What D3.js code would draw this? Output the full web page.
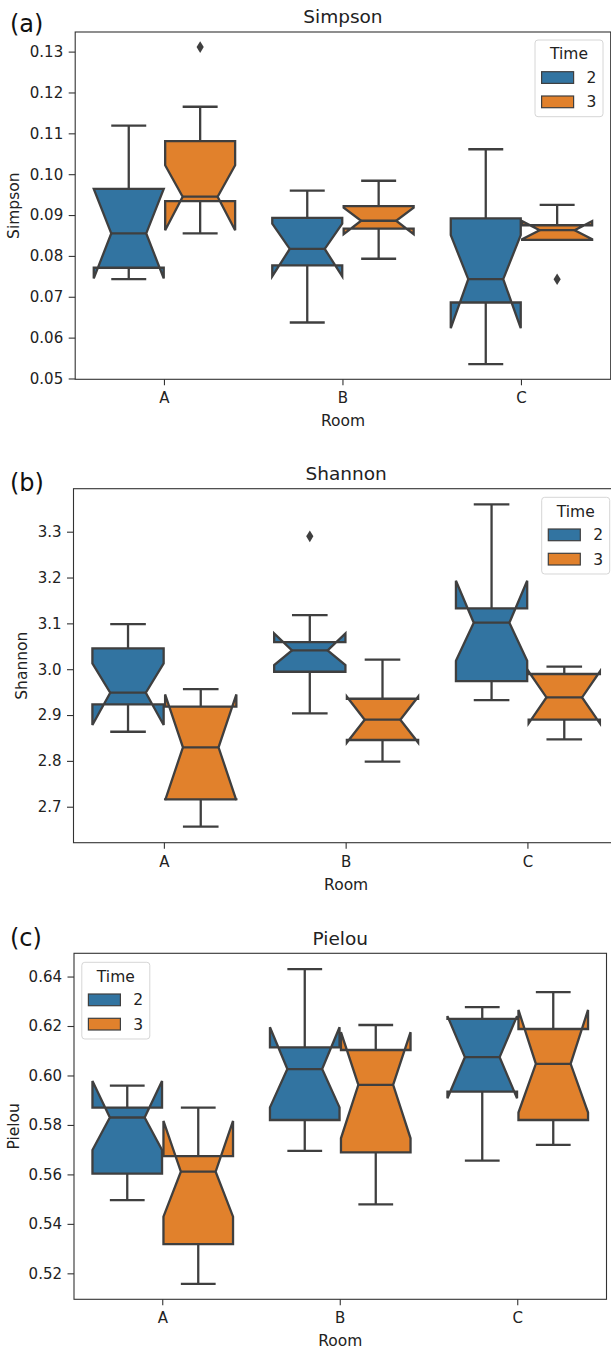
<!DOCTYPE html>
<html>
  <head>
    <meta charset="utf-8" />
    <title>Simpson / Shannon / Pielou by Room</title>
    <script src="https://d3js.org/d3.v7.min.js"></script>
    <style>
      body {
        margin: 0;
        background: #fff;
      }
      svg {
        display: block;
        font-family: "DejaVu Sans", sans-serif;
      }
      .tick text {
        font-family: "DejaVu Sans", sans-serif;
        font-size: 15px;
        fill: #222;
      }
      .tick line {
        stroke: #333;
        stroke-width: 1.1px;
      }
      .frame {
        fill: none;
        stroke: #333;
        stroke-width: 1.1px;
      }
      .box {
        stroke: #3f3f3f;
        stroke-width: 2.3px;
        stroke-linejoin: miter;
      }
      .whisker,
      .median {
        stroke: #3f3f3f;
        stroke-width: 2.3px;
        fill: none;
      }
      .label {
        font-size: 15.5px;
        fill: #222;
      }
    </style>
  </head>
  <body>
    <svg width="611" height="1349"></svg>
    <script>
      const rooms = ["A", "B", "C"];
      const times = ["2", "3"];
      const colors = ["#3274a1", "#e1812c"];

      // every stat array runs A-2, A-3, B-2, B-3, C-2, C-3
      const simpsonWhiskerLow = [0.0743, 0.0855, 0.0637, 0.0793, 0.0535, 0.0839];
      const simpsonQ1 = [0.0771, 0.0934, 0.0777, 0.0867, 0.0686, 0.0839];
      const simpsonNotchLow = [0.0745, 0.0863, 0.075, 0.0853, 0.0623, 0.0841];
      const simpsonMedian = [0.0855, 0.0945, 0.0817, 0.0886, 0.0743, 0.0863];
      const simpsonNotchHigh = [0.0964, 0.1022, 0.0879, 0.0918, 0.0851, 0.0885];
      const simpsonQ3 = [0.0964, 0.1081, 0.0893, 0.0922, 0.0892, 0.0875];
      const simpsonWhiskerHigh = [0.1119, 0.1165, 0.096, 0.0984, 0.1061, 0.0925];
      const simpsonOutliers = [[], [0.1311], [], [], [], [0.0743]];
      const simpsonTicks = [0.05, 0.06, 0.07, 0.08, 0.09, 0.1, 0.11, 0.12, 0.13];
      const simpsonRange = [0.0498, 0.1348];

      const shannonWhiskerLow = [2.8636, 2.6564, 2.9036, 2.7982, 2.9327, 2.8469];
      const shannonQ1 = [2.9233, 2.716, 2.9945, 2.8455, 2.9742, 2.8898];
      const shannonNotchLow = [2.8782, 2.714, 3.009, 2.84, 3.0185, 2.882];
      const shannonMedian = [2.9487, 2.8295, 3.0411, 2.8898, 3.1015, 2.9385];
      const shannonNotchHigh = [3.0127, 2.945, 3.0782, 2.94, 3.1931, 2.995];
      const shannonQ3 = [3.0455, 2.9182, 3.0593, 2.9356, 3.1327, 2.9895];
      const shannonWhiskerHigh = [3.0985, 2.9567, 3.1182, 3.0207, 3.3596, 3.0055];
      const shannonOutliers = [[], [], [3.2898], [], [], []];
      const shannonTicks = [2.7, 2.8, 2.9, 3.0, 3.1, 3.2, 3.3];
      const shannonRange = [2.6215, 3.3938];

      const pielouWhiskerLow = [0.5496, 0.5157, 0.5695, 0.5479, 0.5656, 0.5719];
      const pielouQ1 = [0.5603, 0.5318, 0.582, 0.5689, 0.5935, 0.582];
      const pielouNotchLow = [0.5699, 0.5429, 0.5871, 0.5746, 0.5908, 0.585];
      const pielouMedian = [0.583, 0.5611, 0.6026, 0.5962, 0.6074, 0.6047];
      const pielouNotchHigh = [0.5978, 0.5816, 0.6195, 0.6175, 0.624, 0.6265];
      const pielouQ3 = [0.587, 0.5674, 0.6114, 0.6103, 0.6229, 0.6188];
      const pielouWhiskerHigh = [0.5959, 0.587, 0.643, 0.6204, 0.6276, 0.6337];
      const pielouOutliers = [[], [], [], [], [], []];
      const pielouTicks = [0.52, 0.54, 0.56, 0.58, 0.6, 0.62, 0.64];
      const pielouRange = [0.5095, 0.6494];

      function buildStats(wl, q1, nl, med, nh, q3, wh, out) {
        return wl.map((_, i) => ({
          room: rooms[Math.floor(i / 2)],
          time: times[i % 2],
          wl: wl[i], q1: q1[i], nl: nl[i], med: med[i],
          nh: nh[i], q3: q3[i], wh: wh[i], out: out[i],
        }));
      }

      const panels = [
        {
          letter: "(a)", title: "Simpson",
          stats: buildStats(simpsonWhiskerLow, simpsonQ1, simpsonNotchLow, simpsonMedian,
            simpsonNotchHigh, simpsonQ3, simpsonWhiskerHigh, simpsonOutliers),
          range: simpsonRange, ticks: simpsonTicks, fmt: ".2f",
          frame: { left: 75.2, right: 610.7, top: 32, bottom: 379.3 },
          letterY: 31.5, ylabelX: 13.6, legend: { x: 535, y: 40 },
        },
        {
          letter: "(b)", title: "Shannon",
          stats: buildStats(shannonWhiskerLow, shannonQ1, shannonNotchLow, shannonMedian,
            shannonNotchHigh, shannonQ3, shannonWhiskerHigh, shannonOutliers),
          range: shannonRange, ticks: shannonTicks, fmt: ".1f",
          frame: { left: 73.5, right: 618.8, top: 488.7, bottom: 842.7 },
          letterY: 490.5, ylabelX: 21.4, legend: { x: 541.7, y: 497.3 },
        },
        {
          letter: "(c)", title: "Pielou",
          stats: buildStats(pielouWhiskerLow, pielouQ1, pielouNotchLow, pielouMedian,
            pielouNotchHigh, pielouQ3, pielouWhiskerHigh, pielouOutliers),
          range: pielouRange, ticks: pielouTicks, fmt: ".2f",
          frame: { left: 74, right: 606.5, top: 953.3, bottom: 1299.3 },
          letterY: 945.5, ylabelX: 13.6, legend: { x: 81.8, y: 962.3 },
        },
      ];

      const svg = d3.select("svg");
      panels.forEach(drawPanel);

      function drawPanel(p) {
        const f = p.frame;
        const g = svg.append("g");

        const x = d3.scaleBand().domain(rooms).range([f.left, f.right]);
        const hue = d3.scaleBand().domain(times)
          .range([-0.4 * x.bandwidth(), 0.4 * x.bandwidth()]);
        const y = d3.scaleLinear().domain(p.range).range([f.bottom, f.top]);
        const color = d3.scaleOrdinal().domain(times).range(colors);

        // axes
        const yAxis = g.append("g")
          .attr("transform", `translate(${f.left},0)`)
          .call(d3.axisLeft(y).tickValues(p.ticks).tickFormat(d3.format(p.fmt))
            .tickSize(6.5).tickPadding(5.5));
        yAxis.select(".domain").remove();

        const xAxis = g.append("g")
          .attr("transform", `translate(0,${f.bottom})`)
          .call(d3.axisBottom(x).tickSize(6).tickPadding(7.5));
        xAxis.select(".domain").remove();

        // boxes
        const hw = hue.bandwidth() * 0.98 / 2;
        p.stats.forEach((s) => {
          const cx = x(s.room) + x.bandwidth() / 2 + hue(s.time) + hue.bandwidth() / 2;
          const L = cx - hw, R = cx + hw;
          const nL = cx - hw / 2, nR = cx + hw / 2;

          // whiskers + caps
          [[s.q1, s.wl], [s.q3, s.wh]].forEach(([a, b]) => {
            g.append("line").attr("class", "whisker")
              .attr("x1", cx).attr("x2", cx).attr("y1", y(a)).attr("y2", y(b));
            g.append("line").attr("class", "whisker")
              .attr("x1", nL).attr("x2", nR).attr("y1", y(b)).attr("y2", y(b));
          });

          const pts = [
            [L, s.q1], [R, s.q1], [R, s.nl], [nR, s.med], [R, s.nh], [R, s.q3],
            [L, s.q3], [L, s.nh], [nL, s.med], [L, s.nl],
          ];
          g.append("path").attr("class", "box")
            .attr("fill", color(s.time))
            .attr("d", "M" + pts.map(([px, v]) => `${px},${y(v)}`).join("L") + "Z");

          g.append("line").attr("class", "median")
            .attr("x1", nL).attr("x2", nR)
            .attr("y1", y(s.med)).attr("y2", y(s.med));

          // fliers as thin diamonds
          s.out.forEach((v) => {
            const oy = y(v);
            g.append("path").attr("fill", "#3f3f3f")
              .attr("d", `M${cx},${oy - 5.8}L${cx + 3.6},${oy}L${cx},${oy + 5.8}L${cx - 3.6},${oy}Z`);
          });
        });

        g.append("rect").attr("class", "frame")
          .attr("x", f.left).attr("y", f.top)
          .attr("width", f.right - f.left).attr("height", f.bottom - f.top);

        // texts
        g.append("text").text(p.letter)
          .attr("x", 10).attr("y", p.letterY)
          .style("font-size", "24px").attr("fill", "#111");

        g.append("text").text(p.title)
          .attr("x", (f.left + f.right) / 2).attr("y", f.top - 15).attr("dy", "0.35em")
          .attr("text-anchor", "middle").style("font-size", "18.5px").attr("fill", "#222");

        g.append("text").attr("class", "label").text("Room")
          .attr("x", (f.left + f.right) / 2).attr("y", f.bottom + 41.5).attr("dy", "0.35em")
          .attr("text-anchor", "middle");

        g.append("text").attr("class", "label").text(p.title)
          .attr("transform", `translate(${p.ylabelX},${(f.top + f.bottom) / 2}) rotate(-90)`)
          .attr("dy", "0.35em").attr("text-anchor", "middle");

        drawLegend(g, p.legend, color);
      }

      function drawLegend(g, pos, color) {
        const lg = g.append("g").attr("transform", `translate(${pos.x},${pos.y})`);
        lg.append("rect")
          .attr("width", 68).attr("height", 76.7).attr("rx", 3)
          .attr("fill", "rgba(255,255,255,0.8)").attr("stroke", "#d6d6d6");
        lg.append("text").attr("class", "label").text("Time")
          .attr("x", 34).attr("y", 14).attr("dy", "0.35em").attr("text-anchor", "middle");
        times.forEach((t, i) => {
          lg.append("rect")
            .attr("x", 6.6).attr("y", 31.7 + i * 24.3)
            .attr("width", 32).attr("height", 11.7)
            .attr("fill", color(t)).attr("stroke", "#3f3f3f").attr("stroke-width", 1.2);
          lg.append("text").attr("class", "label").text(t)
            .attr("x", 56.5).attr("y", 37.6 + i * 24.3).attr("dy", "0.35em")
            .attr("text-anchor", "middle");
        });
      }
    </script>
  </body>
</html>
